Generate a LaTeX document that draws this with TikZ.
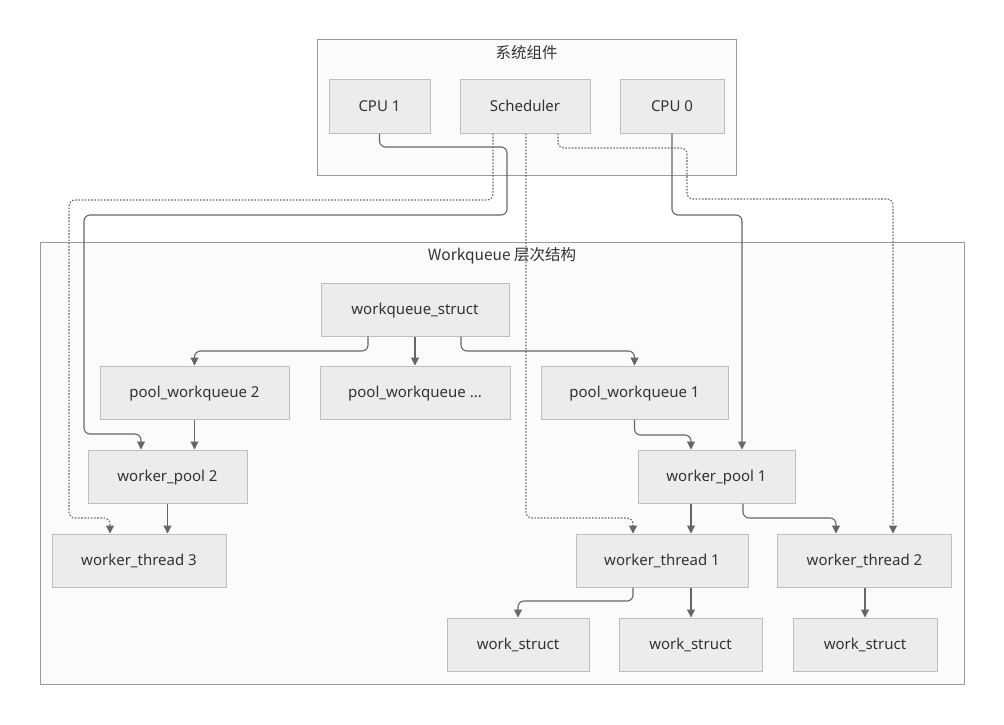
\documentclass[tikz,border=0pt]{standalone}
\usepackage{fontspec}
\setmainfont{Noto Sans}
\newfontfamily\cjk{Noto Sans CJK SC}
\usetikzlibrary{arrows.meta}
\definecolor{nodefill}{HTML}{ECECEC}
\definecolor{nodeline}{HTML}{BEBEBE}
\definecolor{grpfill}{HTML}{FBFBFB}
\definecolor{grpline}{HTML}{9A9A9A}
\definecolor{conncol}{HTML}{666666}
\definecolor{txtcol}{HTML}{333333}
\tikzset{
  box/.style={draw=nodeline, fill=nodefill, line width=1pt, minimum height=53pt, inner sep=0pt,
    font=\fontsize{15}{17}\selectfont, text=txtcol, text height=12pt, text depth=1.5pt},
  grp/.style={draw=grpline, fill=grpfill, line width=1pt},
  grptitle/.style={font=\cjk\fontsize{15.5}{17}\selectfont, text=txtcol},
  conn/.style={draw=conncol, line width=1.1pt, rounded corners=6pt, -{Triangle[length=8pt,width=8pt]}},
  dconn/.style={conn, dash pattern=on 1.6pt off 1.6pt}
}
\begin{document}
\begin{tikzpicture}[x=1pt,y=-1pt]
\useasboundingbox[fill=white] (0,0) rectangle (1004,724);
% groups
\draw[grp] (317,39) rectangle (736,175);
\node[grptitle] (systitle) at (526.5,53) {系统组件};
\draw[grp] (40,242) rectangle (964,684);
\node[grptitle] (wqtitle) at (502,256) {Workqueue 层次结构};
% nodes
\node[box, minimum width=101pt, minimum height=54pt] (cpu1) at (379.5,106) {CPU 1};
\node[box, minimum width=130pt, minimum height=54pt] (sched) at (525,106) {Scheduler};
\node[box, minimum width=104pt, minimum height=54pt] (cpu0) at (672,106) {CPU 0};
\node[box, minimum width=188pt] (wqs) at (415,309.5) {workqueue\_struct};
\node[box, minimum width=189pt] (pwq2) at (194.5,392.5) {pool\_workqueue 2};
\node[box, minimum width=190pt] (pwqd) at (415,392.5) {pool\_workqueue ...};
\node[box, minimum width=187pt] (pwq1) at (634.5,392.5) {pool\_workqueue 1};
\node[box, minimum width=159pt] (wp2) at (167.5,476.5) {worker\_pool 2};
\node[box, minimum width=157pt] (wp1) at (716.5,476.5) {worker\_pool 1};
\node[box, minimum width=174pt] (wt3) at (139,560.5) {worker\_thread 3};
\node[box, minimum width=172pt] (wt1) at (662,560.5) {worker\_thread 1};
\node[box, minimum width=174pt] (wt2) at (864.5,560.5) {worker\_thread 2};
\node[box, minimum width=142pt] (ws1) at (518,644.5) {work\_struct};
\node[box, minimum width=143pt] (ws2) at (690.5,644.5) {work\_struct};
\node[box, minimum width=144pt] (ws3) at (865,644.5) {work\_struct};
% connectors from system components
\draw[conn] (cpu1.south) -- (379.5,147) -- (507,147) -- (507,215) -- (84,215) -- (84,434) -- (141,434) -- ([xshift=-26.5pt]wp2.north);
\draw[conn] (cpu0.south) -- (672,215) -- (742,215) -- ([xshift=25.5pt]wp1.north);
\draw[dconn] ([xshift=-32pt]sched.south) -- (493,200) -- (69,200) -- (69,518) -- (110,518) -- ([xshift=-29pt]wt3.north);
\draw[dconn] ([xshift=1pt]sched.south) -- (526,518) -- (633,518) -- ([xshift=-29pt]wt1.north);
\draw[dconn] ([xshift=33pt]sched.south) -- (558,148) -- (687,148) -- (687,199) -- (893,199) -- ([xshift=28.5pt]wt2.north);
% hierarchy
\draw[conn] ([xshift=-47pt]wqs.south) -- (368,351) -- (194.5,351) -- (pwq2.north);
\draw[conn] (wqs.south) -- (pwqd.north);
\draw[conn] ([xshift=46pt]wqs.south) -- (461,351) -- (634.5,351) -- (pwq1.north);
\draw[conn] (pwq2.south) -- ([xshift=27pt]wp2.north);
\draw[conn] (pwq1.south) -- (634.5,435) -- (691,435) -- ([xshift=-25.5pt]wp1.north);
\draw[conn] (wp2.south) -- ([xshift=28.5pt]wt3.north);
\draw[conn] ([xshift=-25.5pt]wp1.south) -- ([xshift=29pt]wt1.north);
\draw[conn] ([xshift=26.5pt]wp1.south) -- (743,518) -- (836,518) -- ([xshift=-28.5pt]wt2.north);
\draw[conn] ([xshift=-29pt]wt1.south) -- (633,601) -- (518,601) -- (ws1.north);
\draw[conn] ([xshift=29pt]wt1.south) -- ([xshift=0.5pt]ws2.north);
\draw[conn] ([xshift=0.5pt]wt2.south) -- (ws3.north);
\end{tikzpicture}
\end{document}
